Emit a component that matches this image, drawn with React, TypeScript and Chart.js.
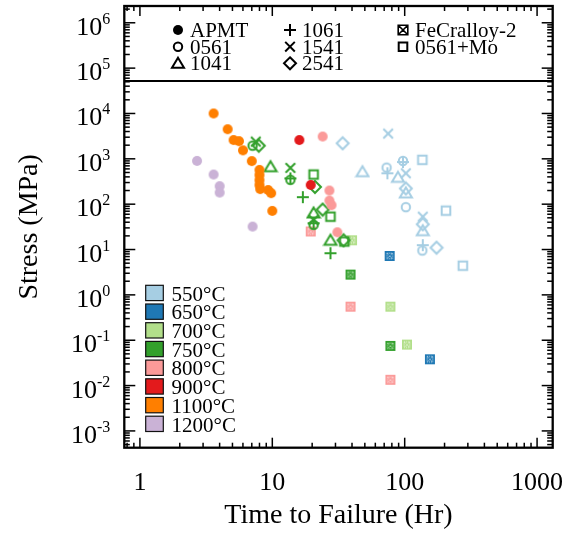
import React, { useEffect, useRef } from 'react';
import { Chart, registerables } from 'chart.js';
Chart.register(...registerables);

// ---------------- data: [time to failure (Hr), stress (MPa)] ----------------
// APMT (filled circle)
const APMT_1100 = [[3.6, 10000], [4.6, 4500], [5.1, 2600], [5.6, 2450], [6.0, 1540], [7.0, 890], [8.0, 570], [8.0, 440], [8.0, 340], [8.0, 265], [8.1, 215], [9.3, 205], [9.8, 175], [10, 71]];
const APMT_1200 = [[2.7, 900], [3.6, 450], [4.0, 250], [4.0, 180], [7.1, 32]];
const APMT_900 = [[16, 2600], [19.5, 265]];
const APMT_800 = [[24, 3100], [27, 200], [27, 120], [28, 95], [31, 24]];
// 0561 (open circle)
const A0561_750 = [[7.1, 1950], [13.7, 345], [20.5, 35]];
const A0561_550 = [[73, 640], [97, 900], [102, 86], [136, 9.5]];
// 1061 (plus)
const A1061_750 = [[13.7, 370], [17, 143], [20.5, 38], [27.5, 8.3]];
const A1061_550 = [[74, 480], [97, 850], [137, 12.5]];
// 1041 (triangle)
const A1041_750 = [[9.7, 670], [20.5, 64], [27.5, 16]];
const A1041_550 = [[48, 520], [89, 390], [102, 177], [137, 26]];
// 1541 (x)
const A1541_750 = [[7.5, 2400], [13.7, 630], [20.5, 45]];
const A1541_550 = [[75, 3600], [102, 480], [137, 53]];
// 2541 (diamond)
const A2541_750 = [[7.9, 1950], [21, 240], [24, 76], [34.5, 16]];
const A2541_550 = [[34, 2200], [102, 222], [137, 36], [174, 11]];
// 0561+Mo (open square)
const A0561MO_750 = [[20.5, 450], [27.5, 53], [35, 15]];
const A0561MO_550 = [[136, 950], [205, 72], [275, 4.4]];
// FeCralloy-2 (patterned square)
const FEC_800 = [[19.5, 25], [39, 0.55], [78, 0.0134]];
const FEC_700 = [[40, 16], [78, 0.55], [104, 0.08]];
const FEC_750 = [[39, 2.8], [78, 0.075]];
const FEC_650 = [[77, 7.2], [155, 0.038]];

const TEMPS = ['550°C', '650°C', '700°C', '750°C', '800°C', '900°C', '1100°C', '1200°C'];
const MATERIALS = ['APMT', '0561', '1041', '1061', '1541', '2541', 'FeCralloy-2', '0561+Mo'];
const X_TICKS = [1, 10, 100, 1000];
const Y_EXPONENTS = [-3, -2, -1, 0, 1, 2, 3, 4, 5, 6];

// ---------------- styles ----------------
const TEMP_COLORS: Record<string, string> = {
  '550°C': '#a6cee3', '650°C': '#1f78b4', '700°C': '#b2df8a', '750°C': '#33a02c',
  '800°C': '#fb9a99', '900°C': '#e31a1c', '1100°C': '#ff7f00', '1200°C': '#cab2d6',
};
const MATERIAL_MARKER: Record<string, string> = {
  'APMT': 'dot', '0561': 'circle', '1041': 'triangle', '1061': 'plus',
  '1541': 'x', '2541': 'diamond', 'FeCralloy-2': 'fec', '0561+Mo': 'square',
};

const SERIES: [string, string, number[][]][] = [
  ['APMT', '1100°C', APMT_1100], ['APMT', '1200°C', APMT_1200], ['APMT', '900°C', APMT_900], ['APMT', '800°C', APMT_800],
  ['0561', '750°C', A0561_750], ['0561', '550°C', A0561_550],
  ['1061', '750°C', A1061_750], ['1061', '550°C', A1061_550],
  ['1041', '750°C', A1041_750], ['1041', '550°C', A1041_550],
  ['1541', '750°C', A1541_750], ['1541', '550°C', A1541_550],
  ['2541', '750°C', A2541_750], ['2541', '550°C', A2541_550],
  ['0561+Mo', '750°C', A0561MO_750], ['0561+Mo', '550°C', A0561MO_550],
  ['FeCralloy-2', '800°C', FEC_800], ['FeCralloy-2', '700°C', FEC_700],
  ['FeCralloy-2', '750°C', FEC_750], ['FeCralloy-2', '650°C', FEC_650],
];

const SERIF = '"Liberation Serif", "Times New Roman", serif';
const X_MIN = Math.pow(10, -0.118), X_MAX = Math.pow(10, 3.118);
const Y_MIN = Math.pow(10, -3.37), Y_MAX = Math.pow(10, 6.37);
const LEGEND_SPLIT = 5.2e4;

function drawShape(ctx: CanvasRenderingContext2D, type: string, color: string, cx: number, cy: number, legend = false) {
  ctx.save();
  ctx.strokeStyle = color; ctx.fillStyle = color; ctx.lineWidth = 2; ctx.lineJoin = 'miter';
  ctx.beginPath();
  switch (type) {
    case 'dot': ctx.arc(cx, cy, 5, 0, Math.PI * 2); ctx.fill(); break;
    case 'circle': ctx.arc(cx, cy, 4.2, 0, Math.PI * 2); ctx.stroke(); break;
    case 'triangle':
      ctx.moveTo(cx, cy - 5.5); ctx.lineTo(cx + 6, cy + 4.5); ctx.lineTo(cx - 6, cy + 4.5); ctx.closePath(); ctx.stroke(); break;
    case 'plus':
      ctx.moveTo(cx - 6, cy); ctx.lineTo(cx + 6, cy); ctx.moveTo(cx, cy - 6); ctx.lineTo(cx, cy + 6); ctx.stroke(); break;
    case 'x':
      ctx.moveTo(cx - 4.8, cy - 4.8); ctx.lineTo(cx + 4.8, cy + 4.8); ctx.moveTo(cx + 4.8, cy - 4.8); ctx.lineTo(cx - 4.8, cy + 4.8); ctx.stroke(); break;
    case 'diamond':
      ctx.moveTo(cx, cy - 6); ctx.lineTo(cx + 6, cy); ctx.lineTo(cx, cy + 6); ctx.lineTo(cx - 6, cy); ctx.closePath(); ctx.stroke(); break;
    case 'square': ctx.rect(cx - 4.3, cy - 4.3, 8.6, 8.6); ctx.stroke(); break;
    case 'fec':
      if (legend) {
        ctx.lineWidth = 1.6;
        ctx.rect(cx - 4.8, cy - 4.8, 9.6, 9.6);
        ctx.moveTo(cx - 4.8, cy - 4.8); ctx.lineTo(cx + 4.8, cy + 4.8);
        ctx.moveTo(cx + 4.8, cy - 4.8); ctx.lineTo(cx - 4.8, cy + 4.8);
        ctx.stroke();
      } else {
        ctx.fillRect(cx - 5, cy - 5, 10, 10);
        ctx.strokeStyle = 'rgba(255,255,255,0.9)'; ctx.lineWidth = 0.8; ctx.setLineDash([1, 1]);
        ctx.beginPath();
        ctx.rect(cx - 2.8, cy - 2.8, 5.6, 5.6);
        ctx.moveTo(cx - 2.8, cy - 2.8); ctx.lineTo(cx + 2.8, cy + 2.8);
        ctx.moveTo(cx + 2.8, cy - 2.8); ctx.lineTo(cx - 2.8, cy + 2.8);
        ctx.stroke();
      }
      break;
  }
  ctx.restore();
}

function makeMarker(type: string, color: string): HTMLCanvasElement {
  const c = document.createElement('canvas');
  c.width = 16; c.height = 16;
  const ctx = c.getContext('2d')!;
  drawShape(ctx, type, color, 8, 8);
  return c;
}

function logTicks(min: number, max: number) {
  const majors: number[] = [], minors: number[] = [];
  for (let e = Math.floor(Math.log10(min)); e <= Math.ceil(Math.log10(max)); e++) {
    for (let k = 1; k < 10; k++) {
      const v = k * Math.pow(10, e);
      if (v < min || v > max) continue;
      (k === 1 ? majors : minors).push(v);
    }
  }
  return { majors, minors };
}

const framePlugin = {
  id: 'frame',
  afterDraw(chart: any) {
    const { ctx, chartArea: a, scales } = chart;
    const xs = scales.x, ys = scales.y;
    ctx.save();
    ctx.strokeStyle = '#000';
    // ticks (inside, mirrored)
    ctx.lineWidth = 1.5;
    const xt = logTicks(X_MIN, X_MAX);
    const yt = logTicks(Y_MIN, Y_MAX);
    const tick = (x1: number, y1: number, x2: number, y2: number) => { ctx.beginPath(); ctx.moveTo(x1, y1); ctx.lineTo(x2, y2); ctx.stroke(); };
    xt.majors.forEach(v => { const p = xs.getPixelForValue(v); tick(p, a.bottom, p, a.bottom - 10); tick(p, a.top, p, a.top + 10); });
    xt.minors.forEach(v => { const p = xs.getPixelForValue(v); tick(p, a.bottom, p, a.bottom - 5); tick(p, a.top, p, a.top + 5); });
    yt.majors.forEach(v => { const p = ys.getPixelForValue(v); tick(a.left, p, a.left + 11, p); tick(a.right, p, a.right - 11, p); });
    yt.minors.forEach(v => { const p = ys.getPixelForValue(v); tick(a.left, p, a.left + 5.5, p); tick(a.right, p, a.right - 5.5, p); });
    // frame
    ctx.lineWidth = 2.3;
    ctx.strokeRect(a.left, a.top, a.right - a.left, a.bottom - a.top);
    // legend separator
    const sy = ys.getPixelForValue(LEGEND_SPLIT);
    ctx.lineWidth = 2;
    tick(a.left, sy, a.right, sy);

    // tick labels
    ctx.fillStyle = '#000';
    ctx.textBaseline = 'alphabetic';
    ctx.font = `26px ${SERIF}`;
    ctx.textAlign = 'center';
    X_TICKS.forEach(v => { ctx.fillText(String(v), xs.getPixelForValue(v), 490); });
    Y_EXPONENTS.forEach(e => {
      const p = ys.getPixelForValue(Math.pow(10, e));
      ctx.font = `16px ${SERIF}`;
      const exp = e < 0 ? '-' + Math.abs(e) : String(e);
      const w2 = ctx.measureText(exp).width;
      ctx.textAlign = 'right';
      const right = a.left - 14;
      ctx.fillText(exp, right, p + 1);
      ctx.font = `26px ${SERIF}`;
      ctx.fillText('10', right - w2, p + 12);
    });

    // axis titles
    ctx.font = `28px ${SERIF}`;
    ctx.textAlign = 'center';
    ctx.fillText('Time to Failure (Hr)', (a.left + a.right) / 2, 523);
    ctx.save();
    ctx.translate(37, (a.top + a.bottom) / 2);
    ctx.rotate(-Math.PI / 2);
    ctx.fillText('Stress (MPa)', 0, 0);
    ctx.restore();

    // material legend (top box)
    const colX = [178, 290, 403];
    const rowY = [30, 46.7, 63.3];
    const layout: [number, number][] = [[0, 0], [0, 1], [0, 2], [1, 0], [1, 1], [1, 2], [2, 0], [2, 1]];
    ctx.font = `21px ${SERIF}`;
    ctx.textAlign = 'left';
    MATERIALS.forEach((m, i) => {
      const [c, r] = layout[i];
      drawShape(ctx, MATERIAL_MARKER[m], '#000', colX[c], rowY[r], true);
      ctx.fillStyle = '#000';
      ctx.fillText(m, colX[c] + 12, rowY[r] + 6.8);
    });

    // temperature legend
    ctx.font = `21px ${SERIF}`;
    TEMPS.forEach((t, i) => {
      const top = 285.3 + i * 18.7;
      ctx.fillStyle = TEMP_COLORS[t];
      ctx.fillRect(145.7, top, 17.6, 15.3);
      ctx.lineWidth = 1.2; ctx.strokeStyle = '#111';
      ctx.strokeRect(145.7, top, 17.6, 15.3);
      ctx.fillStyle = '#000';
      ctx.fillText(t, 171.5, top + 15.3);
    });
    ctx.restore();
  },
};

export default function App() {
  const ref = useRef<HTMLCanvasElement>(null);
  useEffect(() => {
    const datasets = SERIES.map(([mat, temp, pts]) => ({
      label: `${mat} ${temp}`,
      data: pts.map(([x, y]) => ({ x, y })),
      pointStyle: makeMarker(MATERIAL_MARKER[mat], TEMP_COLORS[temp]) as any,
      pointRadius: 5,
      showLine: false,
    }));
    const chart = new Chart(ref.current!, {
      type: 'scatter',
      data: { datasets },
      options: {
        animation: false,
        responsive: false,
        devicePixelRatio: 1,
        layout: { padding: { left: 124.3, top: 6, right: 15.3, bottom: 86.3 } },
        plugins: { legend: { display: false }, tooltip: { enabled: false } },
        scales: {
          x: { type: 'logarithmic', min: X_MIN, max: X_MAX, display: false },
          y: { type: 'logarithmic', min: Y_MIN, max: Y_MAX, display: false },
        },
      },
      plugins: [framePlugin],
    });
    return () => chart.destroy();
  }, []);
  return (
    <div style={{ position: 'absolute', left: 0, top: 0, width: 568, height: 534, background: '#fff' }}>
      <canvas ref={ref} width={568} height={534} style={{ width: 568, height: 534 }} />
    </div>
  );
}
